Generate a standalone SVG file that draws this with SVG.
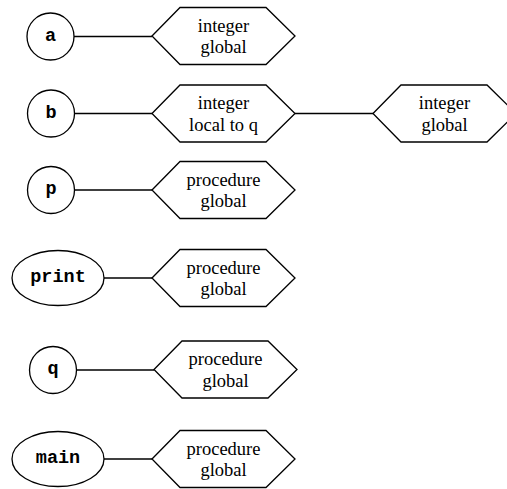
<svg xmlns="http://www.w3.org/2000/svg" width="507" height="489" viewBox="0 0 507 489">
  <style>
    .shape { fill: #ffffff; stroke: #000000; stroke-width: 1.3; }
    .edge { stroke: #000000; stroke-width: 1.3; fill: none; }
    .name { font-family: "Liberation Mono", "Courier New", monospace; font-weight: bold; font-size: 18.5px; text-anchor: middle; fill: #000000; }
    .attr { font-family: "Liberation Serif", "Times New Roman", serif; font-size: 18.5px; text-anchor: middle; fill: #000000; }
  </style>
  <defs>
    <!-- attribute box: hexagon centred on (0,0) -->
    <polygon id="hex" points="-71.5,0 -43.5,-28.5 42.5,-28.5 71.5,0 42.5,28.5 -43.5,28.5"/>
  </defs>
  <rect width="507" height="489" fill="#ffffff"/>

  <!-- connectors -->
  <g id="edges">
    <line class="edge" x1="74" y1="36.5" x2="152" y2="36.5"/>
    <line class="edge" x1="75" y1="113.5" x2="152" y2="113.5"/>
    <line class="edge" x1="295" y1="113.5" x2="373" y2="113.5"/>
    <line class="edge" x1="75" y1="190" x2="152" y2="190"/>
    <line class="edge" x1="104" y1="278" x2="152" y2="278"/>
    <line class="edge" x1="77" y1="370" x2="154" y2="370"/>
    <line class="edge" x1="104" y1="459" x2="152" y2="459"/>
  </g>

  <!-- symbol nodes -->
  <g id="sym-a">
    <circle class="shape" cx="50.5" cy="36.5" r="23.5"/>
    <text class="name" x="50.5" y="40.5">a</text>
  </g>
  <g id="sym-b">
    <circle class="shape" cx="51" cy="113.5" r="23.5"/>
    <text class="name" x="51" y="117.5">b</text>
  </g>
  <g id="sym-p">
    <circle class="shape" cx="51" cy="190" r="23.5"/>
    <text class="name" x="51" y="194">p</text>
  </g>
  <g id="sym-print">
    <ellipse class="shape" cx="58" cy="278" rx="46" ry="27.5"/>
    <text class="name" x="58" y="282">print</text>
  </g>
  <g id="sym-q">
    <circle class="shape" cx="53" cy="370" r="23.5"/>
    <text class="name" x="53" y="374">q</text>
  </g>
  <g id="sym-main">
    <ellipse class="shape" cx="58" cy="459" rx="46" ry="27.5"/>
    <text class="name" x="58" y="463">main</text>
  </g>

  <!-- attribute nodes -->
  <g id="attr-a">
    <use href="#hex" class="shape" x="223.5" y="36"/>
    <text class="attr" x="223.5" y="31.5">integer</text>
    <text class="attr" x="223.5" y="53">global</text>
  </g>
  <g id="attr-b-local">
    <use href="#hex" class="shape" x="223.5" y="113.5"/>
    <text class="attr" x="223.5" y="109">integer</text>
    <text class="attr" x="223.5" y="130.5">local to q</text>
  </g>
  <g id="attr-b-global">
    <use href="#hex" class="shape" x="444.5" y="113.5"/>
    <text class="attr" x="444.5" y="109">integer</text>
    <text class="attr" x="444.5" y="130.5">global</text>
  </g>
  <g id="attr-p">
    <use href="#hex" class="shape" x="223.5" y="190"/>
    <text class="attr" x="223.5" y="185.5">procedure</text>
    <text class="attr" x="223.5" y="207">global</text>
  </g>
  <g id="attr-print">
    <use href="#hex" class="shape" x="223.5" y="278"/>
    <text class="attr" x="223.5" y="273.5">procedure</text>
    <text class="attr" x="223.5" y="295">global</text>
  </g>
  <g id="attr-q">
    <use href="#hex" class="shape" x="225.5" y="369.5"/>
    <text class="attr" x="225.5" y="365">procedure</text>
    <text class="attr" x="225.5" y="386.5">global</text>
  </g>
  <g id="attr-main">
    <use href="#hex" class="shape" x="223.5" y="459"/>
    <text class="attr" x="223.5" y="454.5">procedure</text>
    <text class="attr" x="223.5" y="476">global</text>
  </g>
</svg>
